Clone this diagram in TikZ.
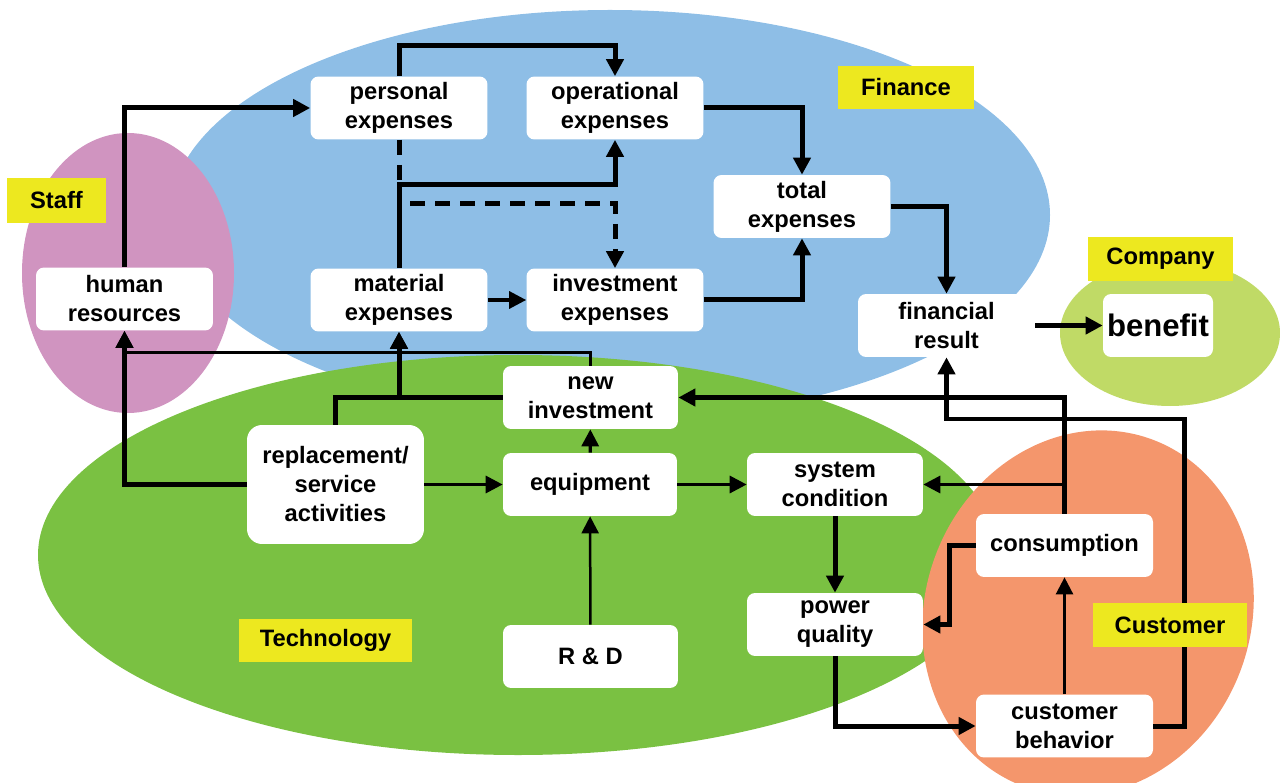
\documentclass[tikz,border=0pt]{standalone}
\usepackage{fontspec}
\setmainfont{Liberation Sans}
\usetikzlibrary{arrows.meta}
\definecolor{finblue}{RGB}{142,190,230}
\definecolor{staffpink}{RGB}{208,148,192}
\definecolor{techgreen}{RGB}{122,193,66}
\definecolor{custorange}{RGB}{244,150,108}
\definecolor{compgreen}{RGB}{192,218,102}
\definecolor{tagyellow}{RGB}{237,232,31}
\tikzset{
    box/.style={fill=white,rounded corners=0.16cm,minimum width=3.54cm,minimum height=1.26cm,
        inner sep=0pt,align=center,font=\bfseries\fontsize{13.5}{16.5}\selectfont},
    tag/.style={fill=tagyellow,inner sep=0pt,font=\bfseries\fontsize{13.5}{16.5}\selectfont},
    flow/.style={line width=0.1cm,-{Triangle[length=0.34cm,width=0.34cm]}},
    thinflow/.style={line width=0.065cm,-{Triangle[length=0.34cm,width=0.34cm]}},
    hairflow/.style={line width=0.05cm,-{Triangle[length=0.34cm,width=0.34cm]}}
}
\begin{document}
\begin{tikzpicture}[x=0.02cm,y=-0.02cm]
                \useasboundingbox (0,0) rectangle (1280,783);
                \fill[finblue] (610,215) ellipse [x radius=440, y radius=205];
                \fill[staffpink] (128,273) ellipse [x radius=106, y radius=140];
                \fill[compgreen] (1170,333) ellipse [x radius=110, y radius=73];
                \fill[techgreen] (518,555) ellipse [x radius=480, y radius=200];
                \fill[custorange,rotate around={-20:(1088,613)}] (1088,613) ellipse [x radius=163, y radius=185];
                \node[box] (pers) at (399,108) {personal\\expenses};
                \node[box] (oper) at (615,108) {operational\\expenses};
                \node[box] (tot) at (802,206.5) {total\\expenses};
                \node[box] (mat) at (399,300) {material\\expenses};
                \node[box] (inv) at (615,300) {investment\\expenses};
                \node[box] (fin) at (946.5,325.5) {financial\\result};
                \node[box,minimum width=2.2cm,font=\bfseries\fontsize{17.7}{20}\selectfont] (ben) at (1158,325.5) {benefit};
                \node[box] (hr) at (124.5,299) {human\\resources};
                \node[box,minimum width=3.5cm] (newinv) at (590.5,397.5) {new\\investment};
                \node[box,minimum height=2.38cm,rounded corners=0.3cm] (repl) at (335.5,484.5) {replacement/\\service\\activities};
                \node[box,minimum width=3.48cm] (equip) at (590,484.5) {equipment};
                \node[box,minimum width=3.52cm] (sys) at (835,484.5) {system\\condition};
                \node[box,minimum width=3.52cm] (pq) at (835,624.5) {power\\quality};
                \node[box] (cons) at (1064.5,545.5) {consumption};
                \node[box] (cb) at (1064.5,726) {customer\\behavior};
                \node[box,minimum width=3.5cm] (rd) at (590.5,656.5) {R \& D};
                \draw[flow] (hr.north) |- (pers.west);
                \draw[flow] (pers.north) -- ++(0,-31) -| (oper.north);
                \draw[flow,dash pattern=on 0.3cm off 0.2cm] (pers.south) -- ++(0,63.5) -| (inv.north);
                \draw[flow] (mat.north) -- ++(0,-84) -| (oper.south);
                \draw[thinflow] (mat) -- (inv);
                \draw[flow] (oper.east) -| (tot.north);
                \draw[flow] (inv.east) -| (tot.south);
                \draw[flow] (tot.east) -| (fin.north);
                \draw[flow] (fin) -- (ben);
                \draw[thinflow] (newinv.north) -- ++(0,-13) -| (hr.south);
                \draw[flow] (repl.west) -| (hr.south);
                \draw[flow] (repl.north) -- ++(0,-27) -| (mat.south);
                \draw[flow] (newinv.west) -| (mat.south);
                \draw[thinflow] (repl) -- (equip);
                \draw[thinflow] (equip) -- (newinv);
                \draw[hairflow] (rd) -- (equip);
                \draw[thinflow] (equip) -- (sys);
                \draw[flow] (sys) -- (pq);
                \draw[flow] (cons.north) |- (newinv.east);
                \draw[thinflow] (cons.north) |- (sys.east);
                \draw[flow] (cons.west) -- ++(-26,0) |- (pq.east);
                \draw[flow] (pq.south) |- (cb.west);
                \draw[hairflow] (cb) -- (cons);
                \draw[flow] (cb.east) -- ++(31,0) -- ++(0,-307) -| (fin.south);
                \node[tag,minimum width=1.98cm,minimum height=0.9cm] (stafftag) at (56.5,200.5) {Staff};
                \node[tag,minimum width=2.72cm,minimum height=0.86cm] (fintag) at (906,87.5) {Finance};
                \node[tag,minimum width=2.9cm,minimum height=0.88cm] (comptag) at (1160.5,259) {Company};
                \node[tag,minimum width=3.46cm,minimum height=0.86cm] (techtag) at (325.5,640.5) {Technology};
                \node[tag,minimum width=3.08cm,minimum height=0.88cm] (custtag) at (1170,625) {Customer};
            \end{tikzpicture}
\end{document}
